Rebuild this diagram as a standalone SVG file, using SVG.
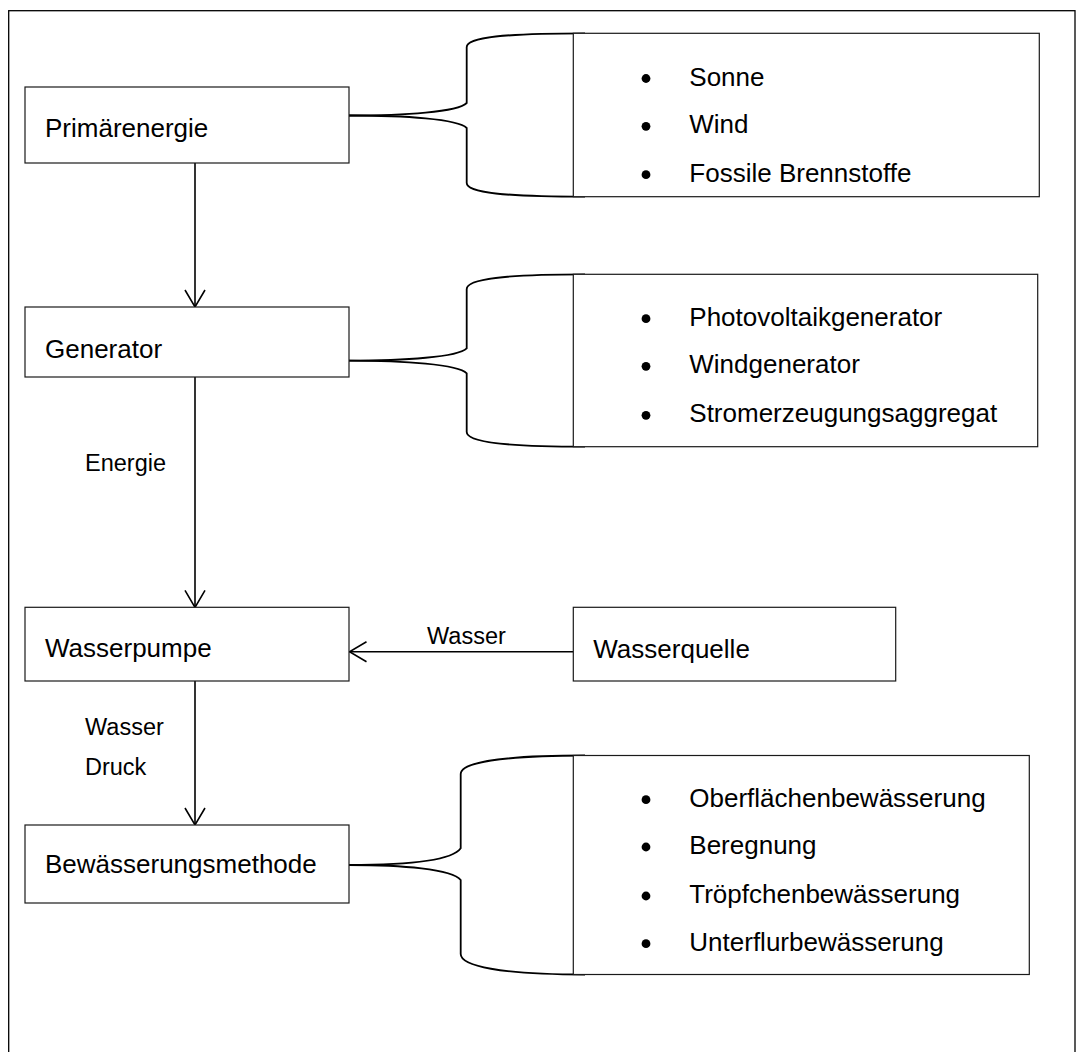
<svg xmlns="http://www.w3.org/2000/svg" width="1085" height="1052" viewBox="0 0 1085 1052">
<defs>
<marker id="arr" viewBox="0 0 22 22" refX="20" refY="11" markerWidth="22" markerHeight="22" markerUnits="userSpaceOnUse" orient="auto">
<path d="M3,1 L20,11 L3,21" fill="none" stroke="#000" stroke-width="1.6"/>
</marker>
<style>
.box{fill:#fff;stroke:#1a1a1a;stroke-width:1.2}
.t{font-family:"Liberation Sans",Arial,sans-serif;font-size:26px;fill:#000}
.lbl{font-family:"Liberation Sans",Arial,sans-serif;font-size:23.5px;fill:#000}
.edge{fill:none;stroke:#000;stroke-width:1.6}
.brace{fill:none;stroke:#000;stroke-width:1.8}
.bul{fill:#000}
</style>
</defs>
<rect width="1085" height="1052" fill="#fff"/>
<rect x="8.7" y="10.7" width="1066.3" height="1060" fill="none" stroke="#000" stroke-width="1.3"/>

<g id="connectors">
<line class="edge" x1="195" y1="163" x2="195" y2="307" marker-end="url(#arr)"/>
<line class="edge" x1="195" y1="377" x2="195" y2="607.3" marker-end="url(#arr)"/>
<line class="edge" x1="195" y1="681" x2="195" y2="825" marker-end="url(#arr)"/>
<line class="edge" x1="573.3" y1="651.7" x2="349.5" y2="651.7" marker-end="url(#arr)"/>
<text class="lbl" x="85" y="471">Energie</text>
<text class="lbl" x="427" y="644.3">Wasser</text>
<text class="lbl" x="85" y="735">Wasser</text>
<text class="lbl" x="85" y="775">Druck</text>
<path class="brace" d="M349,115.5 C405,115.5 458,112 466.7,103 L466.7,47 C466.7,37 505,33.3 585,33.3"/>
<path class="brace" d="M349,115.5 C405,115.5 458,119 466.7,128 L466.7,183 C466.7,193 505,196.7 585,196.7"/>
<path class="brace" d="M349,360.7 C405,360.7 458,357 466.7,348.3 L466.7,289 C466.7,279 505,274.3 585,274.3"/>
<path class="brace" d="M349,360.7 C405,360.7 458,364.5 466.7,373.3 L466.7,432 C466.7,442 505,446.7 585,446.7"/>
<path class="brace" d="M349,865 C402,865 452,861 460.7,848.3 L460.7,774 C460.7,763 500,755.5 585,755.5"/>
<path class="brace" d="M349,865 C402,865 452,869 460.7,880 L460.7,954 C460.7,966 500,974.5 585,974.5"/>
</g>

<g id="n-primaer">
<rect class="box" x="25" y="87" width="324" height="76"/>
<text class="t" x="45" y="137.3">Primärenergie</text>
</g>
<g id="n-generator">
<rect class="box" x="25" y="307" width="324" height="70"/>
<text class="t" x="45" y="358.3">Generator</text>
</g>
<g id="n-wasserpumpe">
<rect class="box" x="25" y="607.3" width="324" height="73.7"/>
<text class="t" x="45" y="657.3">Wasserpumpe</text>
</g>
<g id="n-bewaesserung">
<rect class="box" x="25" y="825" width="324" height="78"/>
<text class="t" x="45" y="873">Bewässerungsmethode</text>
</g>
<g id="n-wasserquelle">
<rect class="box" x="573.3" y="607.3" width="322.4" height="73.7"/>
<text class="t" x="593.3" y="658.3">Wasserquelle</text>
</g>

<g id="list-primaer">
<rect class="box" x="573.3" y="33.3" width="466" height="163.4"/>
<circle class="bul" cx="646" cy="78.5" r="4.4"/>
<text class="t" x="689.3" y="85.7">Sonne</text>
<circle class="bul" cx="646" cy="126.3" r="4.4"/>
<text class="t" x="689.3" y="133.3">Wind</text>
<circle class="bul" cx="646" cy="174.7" r="4.4"/>
<text class="t" x="689.3" y="181.7">Fossile Brennstoffe</text>
</g>
<g id="list-generator">
<rect class="box" x="573.3" y="274.3" width="464.4" height="172.4"/>
<circle class="bul" cx="646" cy="318.7" r="4.4"/>
<text class="t" x="689.3" y="325.7">Photovoltaikgenerator</text>
<circle class="bul" cx="646" cy="366.3" r="4.4"/>
<text class="t" x="689.3" y="373.3">Windgenerator</text>
<circle class="bul" cx="646" cy="415.3" r="4.4"/>
<text class="t" x="689.3" y="422.3">Stromerzeugungsaggregat</text>
</g>
<g id="list-bewaesserung">
<rect class="box" x="573.3" y="755.5" width="456" height="219"/>
<circle class="bul" cx="646" cy="799.7" r="4.4"/>
<text class="t" x="689.3" y="806.7">Oberflächenbewässerung</text>
<circle class="bul" cx="646" cy="847" r="4.4"/>
<text class="t" x="689.3" y="854">Beregnung</text>
<circle class="bul" cx="646" cy="896" r="4.4"/>
<text class="t" x="689.3" y="903">Tröpfchenbewässerung</text>
<circle class="bul" cx="646" cy="943.7" r="4.4"/>
<text class="t" x="689.3" y="950.7">Unterflurbewässerung</text>
</g>
</svg>
